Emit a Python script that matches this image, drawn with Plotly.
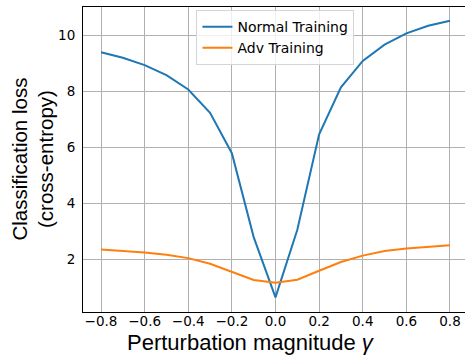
import plotly.graph_objects as go

gamma = [-0.8, -0.7, -0.6, -0.5, -0.4, -0.3, -0.2, -0.1, 0.0,
         0.1, 0.2, 0.3, 0.4, 0.5, 0.6, 0.7, 0.8]
normal_loss = [9.39, 9.19, 8.93, 8.57, 8.06, 7.23, 5.79, 2.80, 0.65,
               3.06, 6.46, 8.14, 9.08, 9.66, 10.06, 10.33, 10.51]
adv_loss = [2.36, 2.31, 2.25, 2.17, 2.05, 1.85, 1.56, 1.27, 1.17,
            1.28, 1.60, 1.91, 2.14, 2.30, 2.39, 2.46, 2.51]
x_ticks = [-0.8, -0.6, -0.4, -0.2, 0.0, 0.2, 0.4, 0.6, 0.8]
x_tick_labels = ["\u22120.8", "\u22120.6", "\u22120.4", "\u22120.2", "0.0", "0.2", "0.4", "0.6", "0.8"]
y_ticks = [2, 4, 6, 8, 10]

fig = go.Figure()
fig.add_trace(go.Scatter(x=gamma, y=normal_loss, mode="lines", name="Normal Training",
                         line=dict(color="#1f77b4", width=2)))
fig.add_trace(go.Scatter(x=gamma, y=adv_loss, mode="lines", name="Adv Training",
                         line=dict(color="#ff7f0e", width=2)))

axis_font = dict(family="DejaVu Sans", size=13.5, color="#000000")
fig.update_layout(
    width=465, height=356,
    margin=dict(l=83, r=0, t=7, b=44),
    plot_bgcolor="white", paper_bgcolor="white",
    showlegend=True,
    legend=dict(x=0.297, y=0.99, xanchor="left", yanchor="top",
                bgcolor="rgba(255,255,255,0.8)", bordercolor="#d5d5d5", borderwidth=1,
                font=dict(family="DejaVu Sans", size=14, color="#000000"),
                tracegroupgap=0),
    xaxis=dict(range=[-0.8825, 0.8688], tickvals=x_ticks, ticktext=x_tick_labels,
               showgrid=True, gridcolor="#b0b0b0", gridwidth=1,
               showline=True, linecolor="#000000", linewidth=1, mirror=True,
               ticks="", ticklabelstandoff=-3,
               tickfont=axis_font, zeroline=False),
    yaxis=dict(range=[0.13, 11.0], tickvals=y_ticks,
               showgrid=True, gridcolor="#b0b0b0", gridwidth=1,
               showline=True, linecolor="#000000", linewidth=1, mirror=False,
               ticks="", ticklabelstandoff=4,
               tickfont=axis_font, zeroline=False),
    annotations=[
        dict(text="Perturbation magnitude <i>\u03b3</i>", xref="paper", yref="paper",
             x=0.44, y=0, yshift=-30, xanchor="center", yanchor="middle", showarrow=False,
             font=dict(family="Liberation Sans", size=22, color="#000000")),
        dict(text="Classification loss<br>(cross-entropy)", xref="paper", yref="paper",
             x=0, xshift=-51, y=0.5, xanchor="center", yanchor="middle", showarrow=False,
             textangle=-90,
             font=dict(family="Liberation Sans", size=20.5, color="#000000")),
    ],
)

fig.write_html("out.html")
